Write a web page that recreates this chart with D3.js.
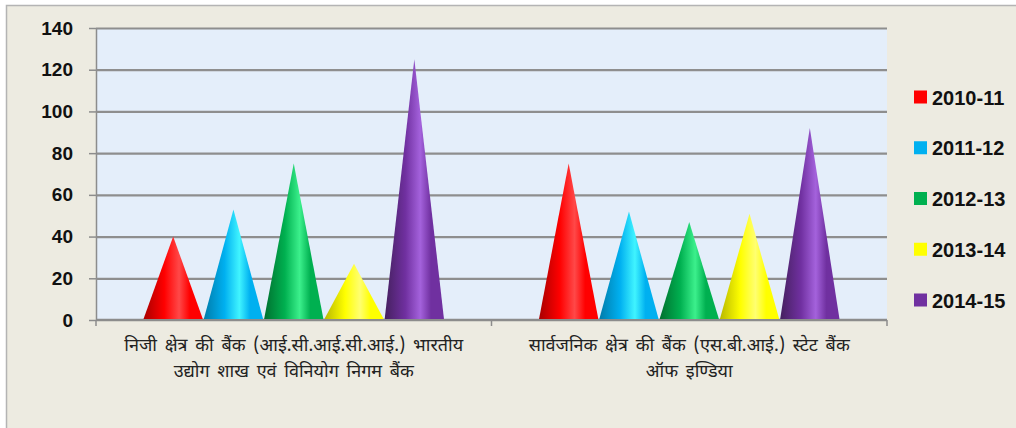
<!doctype html>
<html>
<head>
<meta charset="utf-8">
<style>
    body { margin: 0; background: #fff; }
    svg { display: block; }
    .ytick text { font-family: 'Liberation Sans', Arial, sans-serif; font-size: 19px; font-weight: 700; fill: #111; }
    .legend text { font-family: 'Liberation Sans', Arial, sans-serif; font-size: 20px; font-weight: 700; fill: #111; }
    .cat text { font-family: 'Noto Sans Devanagari', 'Lohit Devanagari', 'Noto Sans', sans-serif; font-size: 18px; word-spacing: 3px; fill: #222; }
</style>
<script src="https://d3js.org/d3.v7.min.js"></script>
</head>
<body>
<svg width="1016" height="428"></svg>
<script>
const categories = [
    ['निजी क्षेत्र की बैंक (आई.सी.आई.सी.आई.) भारतीय', 'उद्योग शाख एवं विनियोग निगम बैंक'],
    ['सार्वजनिक क्षेत्र की बैंक (एस.बी.आई.) स्टेट बैंक', 'ऑफ इण्डिया']
]
const series = ['2010-11', '2011-12', '2012-13', '2013-14', '2014-15']
const values = [
    [40, 53, 75, 27, 125],
    [75, 52, 47, 51, 92]
]
const yTicks = [0, 20, 40, 60, 80, 100, 120, 140]
const colors = ['#FF0000', '#00B0F0', '#00B050', '#FFFF00', '#7030A0']
// dark edge, highlight for the cone shading
const shades = [
    ['#A80000', '#FF4848'],
    ['#007BAA', '#40F4FF'],
    ['#00702F', '#3CF08C'],
    ['#B8B800', '#FFFF70'],
    ['#45205F', '#A462DC']
]

const svg = d3.select('svg')
const plotL = 96, plotR = 887, plotT = 28, plotB = 320

// background + frame
svg.append('rect').attr('x', 6).attr('y', 6).attr('width', 1010).attr('height', 422).attr('fill', '#EDEBE1')
svg.append('path').attr('d', 'M6.5,428 V5.5 H1016').attr('fill', 'none').attr('stroke', '#B4B4B4').attr('stroke-width', 1.5)
svg.append('rect').attr('x', plotL).attr('y', plotT).attr('width', plotR - plotL).attr('height', plotB - plotT).attr('fill', '#E4EEFA')

const defs = svg.append('defs')
shades.forEach((s, i) => {
    const g = defs.append('linearGradient').attr('id', 'cone' + i).attr('x1', 0).attr('x2', 1).attr('y1', 0).attr('y2', 0)
    g.append('stop').attr('offset', '0%').attr('stop-color', s[0])
    g.append('stop').attr('offset', '35%').attr('stop-color', colors[i])
    g.append('stop').attr('offset', '60%').attr('stop-color', s[1])
    g.append('stop').attr('offset', '78%').attr('stop-color', colors[i])
    g.append('stop').attr('offset', '100%').attr('stop-color', colors[i])
})

const x0 = d3.scaleBand().domain(d3.range(categories.length)).range([plotL, plotR])
const x1 = d3.scaleBand().domain(series).range([0, x0.bandwidth()]).paddingInner(0).paddingOuter(0.78)
const y = d3.scaleLinear().domain([0, 140]).range([plotB, plotT])

// grid + left axis
const yAxis = svg.append('g').attr('class', 'ytick')
    .attr('transform', `translate(${plotL},0)`)
    .call(d3.axisLeft(y).tickValues(yTicks).tickSize(7).tickSizeOuter(0).tickPadding(16))
yAxis.select('.domain').attr('stroke', '#8C8C8C').attr('stroke-width', 1.5)
yAxis.selectAll('.tick line').attr('stroke', '#8C8C8C').attr('stroke-width', 1.5)
yAxis.selectAll('.tick').filter(d => d > 0).append('line')
    .attr('x1', 0).attr('x2', plotR - plotL)
    .attr('stroke', '#8E8E8E').attr('stroke-width', 2.2)

// bottom axis
svg.append('line').attr('x1', plotL).attr('x2', plotR).attr('y1', plotB).attr('y2', plotB)
    .attr('stroke', '#8C8C8C').attr('stroke-width', 2.5)
const bounds = x0.domain().map(d => x0(d)).concat([plotR])
svg.selectAll('.xtick').data(bounds).enter().append('line')
    .attr('x1', d => d).attr('x2', d => d).attr('y1', plotB).attr('y2', plotB + 6)
    .attr('stroke', '#8C8C8C').attr('stroke-width', 1.5)

// cones
const groups = svg.selectAll('.grp').data(values).enter().append('g')
    .attr('transform', (d, i) => `translate(${x0(i)},0)`)
groups.selectAll('path').data(d => d.map((v, j) => ({ v, j }))).enter().append('path')
    .attr('fill', d => `url(#cone${d.j})`)
    .attr('d', d => {
        const a = x1(series[d.j]), w = x1.bandwidth()
        return `M${a + 0.5},${plotB - 1} L${a + w / 2},${y(d.v)} L${a + w - 0.5},${plotB - 1} Z`
    })

// category labels
const cat = svg.append('g').attr('class', 'cat')
categories.forEach((lines, i) => {
    const t = cat.append('text').attr('text-anchor', 'middle')
        .attr('x', x0(i) + x0.bandwidth() / 2).attr('y', 351)
    lines.forEach((l, k) => t.append('tspan').attr('x', x0(i) + x0.bandwidth() / 2).attr('dy', k ? 26 : 0).text(l))
})

// legend
const leg = svg.append('g').attr('class', 'legend')
const ly = d3.scalePoint().domain(series).range([97, 300])
series.forEach((s, i) => {
    leg.append('rect').attr('x', 914).attr('y', ly(s) - 6.5).attr('width', 13).attr('height', 13).attr('fill', colors[i])
    leg.append('text').attr('x', 932).attr('y', ly(s) + 7.5).text(s)
})
</script>
</body>
</html>
